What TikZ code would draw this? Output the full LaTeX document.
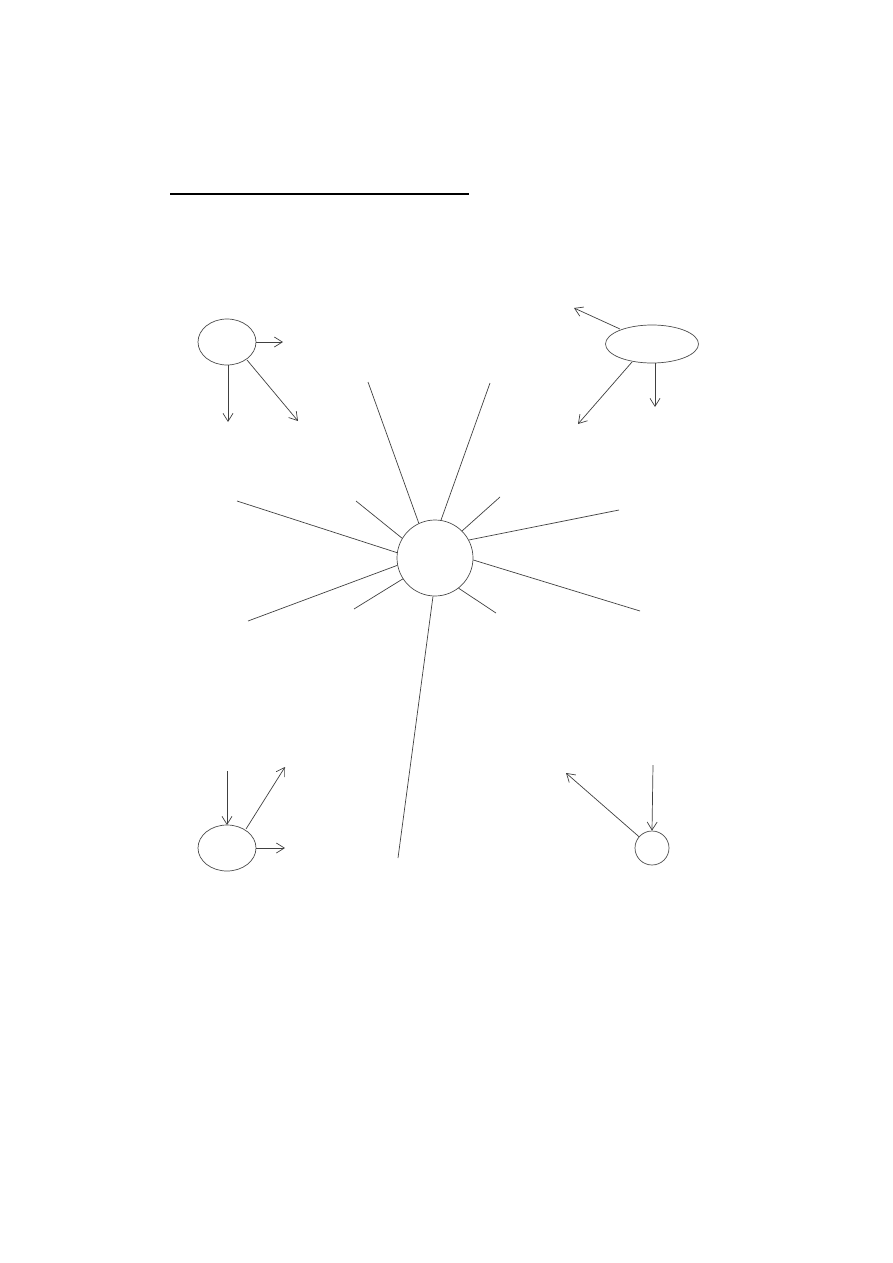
\documentclass[tikz,border=0pt]{standalone}
\usetikzlibrary{arrows.meta}
\begin{document}
\begin{tikzpicture}[x=1pt,y=-1pt,
  edge/.style={draw=black!75, line width=0.7pt},
  arr/.style={edge, -{Straight Barb[length=8pt,width=10pt]}},
  ray/.style={edge}]
\useasboundingbox (0,0) rectangle (893,1263);
\draw[line width=2pt] (170,194) -- (469,194);
% nodes
\node[draw=black!70, line width=0.7pt, circle, minimum size=76pt, inner sep=0pt] (c) at (435,558) {};
\draw[draw=black!70, line width=0.7pt] (227,342) ellipse [x radius=29, y radius=23];
\draw[draw=black!70, line width=0.7pt] (652,344) ellipse [x radius=46.5, y radius=19];
\draw[draw=black!70, line width=0.7pt] (227,848) ellipse [x radius=29, y radius=23];
\node[draw=black!70, line width=0.7pt, circle, minimum size=34pt, inner sep=0pt] (br) at (652,848) {};
% top-left arrows
\draw[arr] (256,342) -- (283,342);
\draw[arr] (228,365) -- (228,422);
\draw[arr] (247,360) -- (298,421);
% top-right arrows
\draw[arr] (620,329) -- (574,308);
\draw[arr] (655,363) -- (655,407);
\draw[arr] (632,362) -- (578,424);
% rays
\foreach \a/\p in {115/{(368,382)},81/{(490,383)},149/{(356,501)},45/{(500,497)},172.5/{(237,501)},28/{(619,510)},191.5/{(248,621)},-3/{(640,611)},213.5/{(354,609)},-52.5/{(496,613)},-93/{(398,858)}}
  \draw[ray] (c.\a) -- \p;
% bottom-left arrows
\draw[arr] (227,771) -- (227,825);
\draw[arr] (246,829) -- (285,767);
\draw[arr] (256,848) -- (285,848);
% bottom-right arrows
\coordinate (brtop) at (653,765);
\draw[arr] (brtop) -- (br.north);
\draw[arr] (br.139) -- (566,773);
\end{tikzpicture}
\end{document}
